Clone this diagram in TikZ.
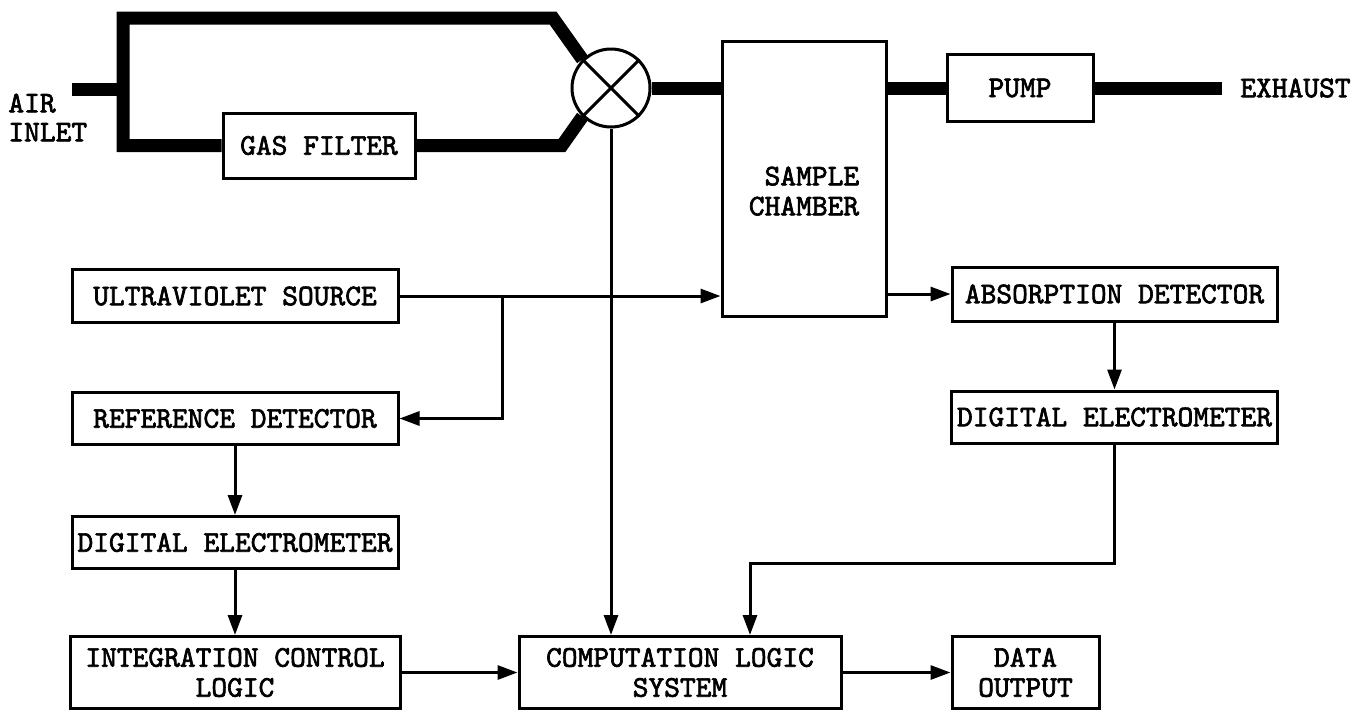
\documentclass[tikz,border=0pt]{standalone}
\usepackage{fontspec}
\newfontfamily\typer[FakeBold=2.2]{lmmono10-regular.otf}
\usetikzlibrary{arrows.meta, positioning, backgrounds}

\begin{document}
\begin{tikzpicture}[
  x=0.5pt, y=-0.5pt,
  box/.style={rectangle, draw=black, line width=1.5pt, inner sep=0pt,
             minimum width=163pt, minimum height=26pt, align=center,
             font=\typer\bfseries\fontsize{15}{15}\selectfont},
  tallbox/.style={box, minimum height=36pt},
  valvebox/.style={circle, draw=black, line width=1.5pt, fill=white,
             minimum size=39pt, inner sep=0pt},
  gasline/.style={line width=6.5pt, line join=miter},
  tag/.style={inner sep=0pt, align=left,
             font=\typer\bfseries\fontsize{15}{14.5}\selectfont},
  arrow/.style={-{Triangle[length=10pt, width=7pt]}, line width=1.5pt}
]
\useasboundingbox (0,0) rectangle (1353,713);

% gas path
\node[valvebox] (valve) at (611,88) {};
\node[box, fill=white, minimum width=96pt, minimum height=32.5pt] (filter) at (319,145.5) {GAS FILTER};
\node[box, fill=white, minimum width=82pt, minimum height=137.5pt, align=right] (chamber) at (804,178.5) {\rule{0pt}{22pt}SAMPLE\\CHAMBER};
\node[box, fill=white, minimum width=73pt, minimum height=33.5pt] (pump) at (1020,88) {PUMP};

\coordinate (inlet) at (72,89);
\coordinate (tee) at (123,89);
\coordinate (topbend) at (553,18);
\coordinate (lowbend) at (562,145.5);
\coordinate (outlet) at (1222,88);
\node[tag, anchor=west] (air) at (8,117.5) {AIR\\INLET};
\node[tag, anchor=west] (exhaust) at (1240,88) {EXHAUST};

\begin{scope}[on background layer]
  \draw[gasline] (inlet) -- (tee);
  \draw[gasline] (valve.north west) -- (topbend) -- (tee |- topbend) -- (tee |- filter.west) -- (filter.west);
  \draw[gasline] (filter.east) -- (lowbend) -- (valve.south west);
  \draw[gasline] (valve.east) -- (valve.east -| chamber.west);
  \draw[gasline] (chamber.east |- pump.west) -- (pump.west);
  \draw[gasline] (pump.east) -- (outlet);
\end{scope}
\draw[line width=1.5pt] (valve.north west) -- (valve.south east)
                        (valve.north east) -- (valve.south west);

% signal path
\node[box, minimum height=26.5pt] (uv) at (235,296) {ULTRAVIOLET SOURCE};
\node[box, below=33.5pt of uv] (ref) {REFERENCE DETECTOR};
\node[box, below=34.5pt of ref] (delec) {DIGITAL ELECTROMETER};
\node[tallbox, below=32.5pt of delec, minimum width=165pt] (integ) {INTEGRATION CONTROL\\LOGIC};
\node[tallbox, right=58pt of integ, minimum width=161pt] (comp) {COMPUTATION LOGIC\\SYSTEM};
\node[tallbox, right=54pt of comp, minimum width=73.5pt] (data) {DATA\\OUTPUT};
\node[box, minimum width=162.5pt, minimum height=27pt] (absd) at (1114.5,294) {ABSORPTION DETECTOR};
\node[box, below=33.5pt of absd] (relec) {DIGITAL ELECTROMETER};

\coordinate[right=51.5pt of uv.east] (split);
\coordinate (elbow) at (750,563);

\draw[arrow] (uv.east) -- (uv.east -| chamber.west);
\draw[arrow] (split) |- (ref.east);
\draw[arrow] (chamber.east |- absd.west) -- (absd.west);
\draw[arrow] (absd) -- (relec);
\draw[arrow] (ref) -- (delec);
\draw[arrow] (delec) -- (integ);
\draw[arrow] (integ) -- (comp);
\draw[arrow] (comp) -- (data);
\draw[arrow] (valve.south) -- (valve.south |- comp.north);
\draw[arrow] (relec) |- (elbow) -- (elbow |- comp.north);

\end{tikzpicture}
\end{document}
